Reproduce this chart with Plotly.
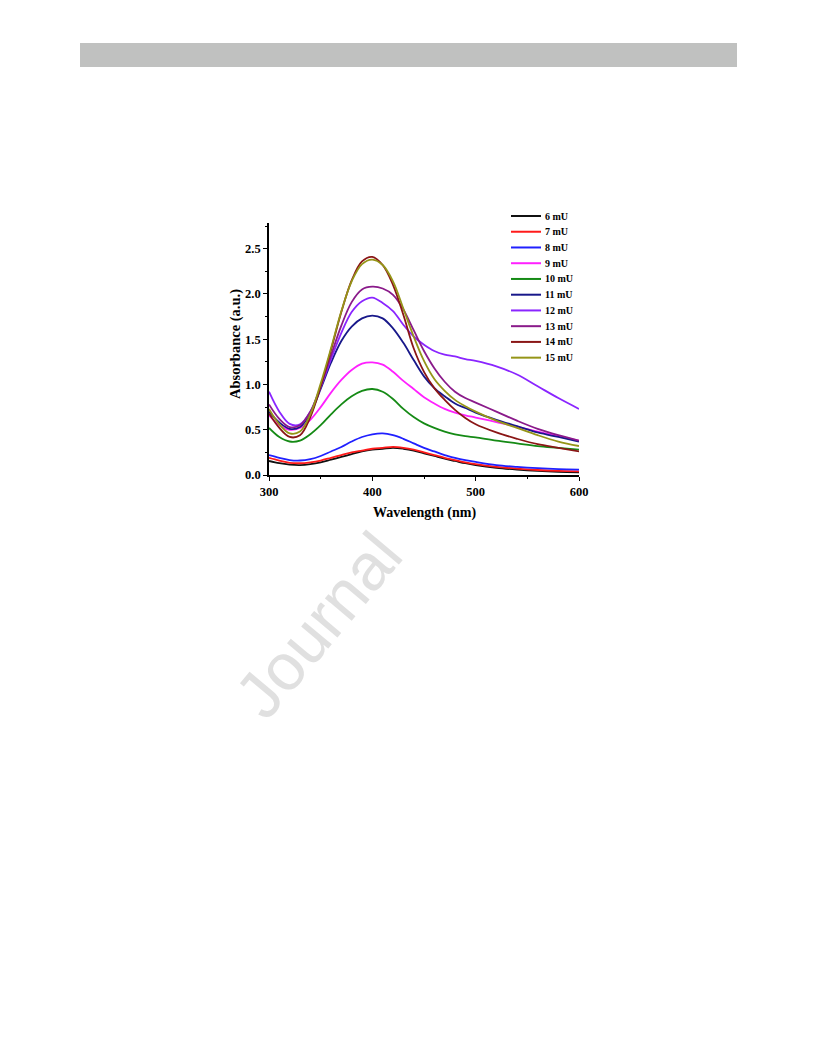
import plotly.graph_objects as go

# ---------------- data ----------------
WAVELENGTH = [300, 310, 320, 330, 340, 350, 360, 370, 380, 390, 400, 410, 420, 430,
              440, 450, 460, 470, 480, 490, 500, 520, 540, 560, 580, 600]

SERIES_NAMES = ["6 mU", "7 mU", "8 mU", "9 mU", "10 mU",
                "11 mU", "12 mU", "13 mU", "14 mU", "15 mU"]

SERIES_COLORS = ["#111111", "#ff1a1a", "#2020ff", "#ff20ff", "#158a15",
                 "#18188a", "#8a25ff", "#8a1a8a", "#8a1616", "#959518"]

A_6 = [0.155, 0.13, 0.115, 0.11, 0.12, 0.14, 0.17, 0.20, 0.23, 0.26, 0.28, 0.29, 0.30, 0.29,
       0.27, 0.24, 0.21, 0.18, 0.155, 0.13, 0.11, 0.08, 0.06, 0.045, 0.035, 0.03]
A_7 = [0.19, 0.16, 0.135, 0.13, 0.14, 0.16, 0.19, 0.22, 0.25, 0.27, 0.29, 0.30, 0.31, 0.30,
       0.28, 0.25, 0.22, 0.19, 0.165, 0.14, 0.12, 0.09, 0.07, 0.055, 0.045, 0.04]
A_8 = [0.22, 0.19, 0.165, 0.16, 0.175, 0.21, 0.26, 0.31, 0.37, 0.42, 0.45, 0.46, 0.44, 0.40,
       0.35, 0.30, 0.26, 0.22, 0.19, 0.165, 0.145, 0.11, 0.09, 0.075, 0.065, 0.06]
A_9 = [0.66, 0.55, 0.50, 0.52, 0.61, 0.75, 0.91, 1.05, 1.16, 1.23, 1.245, 1.22, 1.14, 1.04,
       0.95, 0.86, 0.79, 0.73, 0.69, 0.66, 0.635, 0.585, 0.535, 0.48, 0.43, 0.38]
A_10 = [0.52, 0.42, 0.37, 0.38, 0.45, 0.55, 0.67, 0.78, 0.87, 0.93, 0.95, 0.92, 0.84, 0.73,
        0.64, 0.57, 0.52, 0.48, 0.45, 0.43, 0.415, 0.38, 0.35, 0.32, 0.30, 0.28]
A_11 = [0.70, 0.58, 0.51, 0.53, 0.68, 0.95, 1.24, 1.48, 1.64, 1.73, 1.76, 1.73, 1.62, 1.46,
        1.27, 1.09, 0.96, 0.87, 0.79, 0.74, 0.69, 0.61, 0.54, 0.47, 0.42, 0.37]
A_12 = [0.92, 0.70, 0.565, 0.56, 0.70, 0.97, 1.28, 1.57, 1.80, 1.92, 1.96, 1.90, 1.81, 1.66,
        1.53, 1.44, 1.37, 1.33, 1.31, 1.28, 1.26, 1.20, 1.11, 0.98, 0.85, 0.73]
A_13 = [0.78, 0.62, 0.53, 0.55, 0.70, 0.98, 1.32, 1.65, 1.91, 2.05, 2.08, 2.06, 1.99, 1.83,
        1.60, 1.37, 1.18, 1.03, 0.92, 0.85, 0.80, 0.70, 0.60, 0.51, 0.44, 0.38]
A_14 = [0.68, 0.52, 0.42, 0.44, 0.64, 0.98, 1.38, 1.80, 2.15, 2.36, 2.41, 2.32, 2.10, 1.77,
        1.40, 1.14, 0.96, 0.83, 0.72, 0.63, 0.56, 0.47, 0.40, 0.34, 0.30, 0.26]
A_15 = [0.73, 0.56, 0.46, 0.48, 0.67, 1.01, 1.40, 1.81, 2.14, 2.33, 2.38, 2.32, 2.14, 1.84,
        1.53, 1.26, 1.06, 0.93, 0.83, 0.76, 0.70, 0.60, 0.52, 0.44, 0.37, 0.32]

SERIES_VALUES = [A_6, A_7, A_8, A_9, A_10, A_11, A_12, A_13, A_14, A_15]

X_TICKS = [300, 400, 500, 600]
Y_TICKS = [0.0, 0.5, 1.0, 1.5, 2.0, 2.5]

# ---------------- layout helpers ----------------
OFF = 8                     # default body margin of the html page
W, H = 816 - OFF, 1056 - OFF
PL, PR, PT, PB = 269 - OFF, 579 - OFF, 223 - OFF, 475 - OFF   # plot area (figure px)


def xp(px):
    """page pixel -> paper fraction"""
    return (px - OFF - PL) / (PR - PL)


def yp(py):
    return (PB - (py - OFF)) / (PB - PT)


SERIF = "Liberation Serif, Times New Roman, serif"

fig = go.Figure()

for name, color, vals in zip(SERIES_NAMES, SERIES_COLORS, SERIES_VALUES):
    fig.add_trace(go.Scatter(
        x=WAVELENGTH, y=vals, name=name, mode="lines",
        line=dict(color=color, width=1.8, shape="spline", smoothing=1.0),
        showlegend=False,
    ))

shapes = []
annotations = []

# grey header bar
shapes.append(dict(type="rect", xref="paper", yref="paper",
                   x0=xp(80), x1=xp(737), y0=yp(67), y1=yp(43),
                   fillcolor="#c0c1c0", line=dict(width=0), layer="below"))

# legend (manual, to match the compact spacing of the original)
for i, (name, color) in enumerate(zip(SERIES_NAMES, SERIES_COLORS)):
    ry = 216 + 15.74 * i
    shapes.append(dict(type="line", xref="paper", yref="paper",
                       x0=xp(511), x1=xp(541), y0=yp(ry), y1=yp(ry),
                       line=dict(color=color, width=2)))
    annotations.append(dict(xref="paper", yref="paper", x=xp(543), y=yp(ry),
                            xanchor="left", yanchor="middle", showarrow=False,
                            text=name,
                            font=dict(family=SERIF, size=10, color="#000000", weight="bold")))

# watermark
annotations.append(dict(xref="paper", yref="paper", x=xp(318), y=yp(625),
                        xanchor="center", yanchor="middle", showarrow=False,
                        text="Journal", textangle=-50,
                        font=dict(family="Liberation Sans, Arial, sans-serif", size=66,
                                  color="#e0e0e0")))

# axis titles
annotations.append(dict(xref="paper", yref="paper", x=0.5, y=yp(513),
                        xanchor="center", yanchor="middle", showarrow=False,
                        text="Wavelength (nm)",
                        font=dict(family=SERIF, size=14, color="#000000", weight="bold")))
annotations.append(dict(xref="paper", yref="paper", x=xp(235), y=yp(344),
                        xanchor="center", yanchor="middle", showarrow=False,
                        text="Absorbance (a.u.)", textangle=-90,
                        font=dict(family=SERIF, size=14.5, color="#000000", weight="bold")))

axis_common = dict(
    showline=True, linecolor="#000000", linewidth=1.6,
    ticks="outside", ticklen=4, tickwidth=1.4, tickcolor="#000000",
    showgrid=False, zeroline=False,
    tickfont=dict(family=SERIF, size=12.5, color="#000000", weight="bold"),
)

fig.update_layout(
    width=W, height=H,
    margin=dict(l=PL, r=W - PR, t=PT, b=H - PB, pad=0),
    paper_bgcolor="#ffffff", plot_bgcolor="#ffffff",
    showlegend=False,
    shapes=shapes,
    annotations=annotations,
    xaxis=dict(range=[300, 600], tickvals=X_TICKS, ticktext=[str(v) for v in X_TICKS],
               minor=dict(dtick=50, ticklen=2.5, tickwidth=1.2, ticks="outside",
                          tickcolor="#000000", showgrid=False),
               **axis_common),
    yaxis=dict(range=[0, 2.784], tickvals=Y_TICKS, ticktext=[f"{v:.1f}" for v in Y_TICKS],
               minor=dict(dtick=0.25, ticklen=2.5, tickwidth=1.2, ticks="outside",
                          tickcolor="#000000", showgrid=False),
               **axis_common),
)

fig.write_html("out.html")
